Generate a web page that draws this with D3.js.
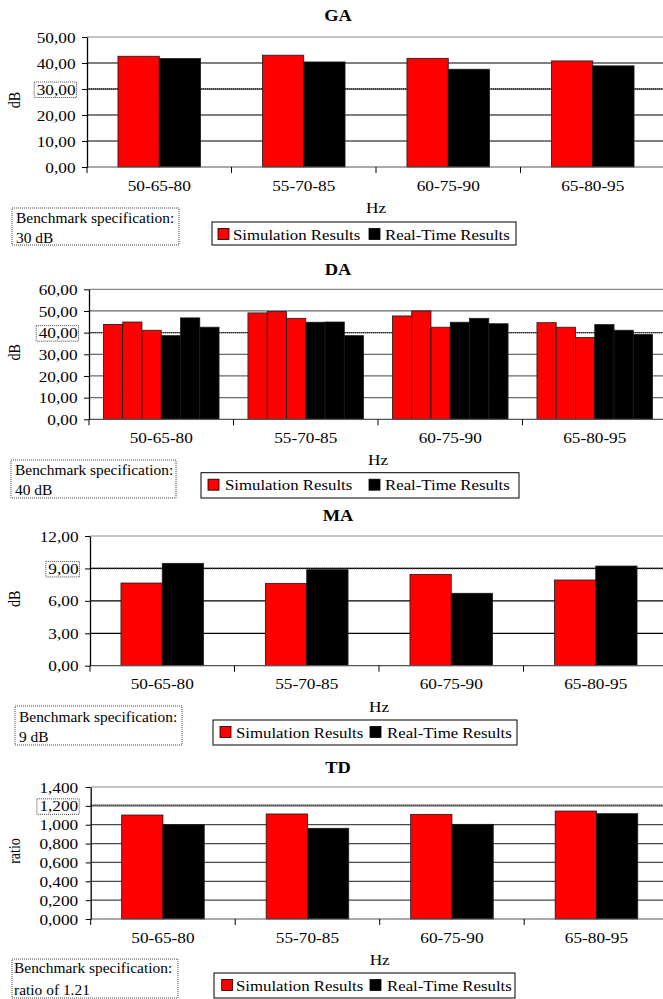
<!DOCTYPE html>
<html>
<head>
<meta charset="utf-8">
<script src="https://cdn.jsdelivr.net/npm/d3@7"></script>
<style>
  html, body { margin: 0; padding: 0; background: #fff; }
  svg { display: block; }
  svg text { font-family: "Liberation Serif", Tinos, "Times New Roman", Times, "DejaVu Serif", serif; fill: #000; }
</style>
</head>
<body>
<svg id="chart" width="663" height="999"></svg>
<script>
// Frequency triplets (Hz) shared by all four panels
const categories = ["50-65-80", "55-70-85", "60-75-90", "65-80-95"];

// GA (dB)
const gaSimulation = [42.6, 43.0, 41.8, 40.8];
const gaRealTime   = [41.7, 40.4, 37.6, 38.9];
const gaTicks      = [0, 10, 20, 30, 40, 50];
const gaBenchmark  = 30;

// DA (dB) – three readings per frequency triplet
const daSimulation = [[43.8, 44.9, 41.1], [49.1, 49.7, 46.6], [47.7, 50.0, 42.5], [44.6, 42.5, 37.8]];
const daRealTime   = [[38.6, 46.8, 42.5], [44.8, 44.9, 38.6], [44.8, 46.6, 44.1], [43.7, 41.1, 39.1]];
const daTicks      = [0, 10, 20, 30, 40, 50, 60];
const daBenchmark  = 40;

// MA (dB)
const maSimulation = [7.65, 7.62, 8.45, 7.93];
const maRealTime   = [9.47, 8.88, 6.70, 9.22];
const maTicks      = [0, 3, 6, 9, 12];
const maBenchmark  = 9;

// TD (ratio)
const tdSimulation = [1.103, 1.114, 1.110, 1.145];
const tdRealTime   = [1.000, 0.962, 1.004, 1.117];
const tdTicks      = [0, 0.2, 0.4, 0.6, 0.8, 1.0, 1.2, 1.4];
const tdBenchmark  = 1.21;

const titles       = ["GA", "DA", "MA", "TD"];
const yTitles      = ["dB", "dB", "dB", "ratio"];
const benchNotes   = ["30 dB", "40 dB", "9 dB", "ratio of 1.21"];
const seriesNames  = ["Simulation Results", "Real-Time Results"];
const seriesColors = ["#ff0000", "#000000"];

// Decimal comma formatting
const locale = d3.formatLocale({decimal: ",", thousands: ".", grouping: [3], currency: ["", ""]});
const fmt2 = locale.format(".2f");
const fmt3 = locale.format(".3f");

// Page layout for each panel
const layouts = [
  {left: 87,   top: 37,    bottom: 167,   titleY: 21,  grid: "#000",
   legend: {x0: 212, x1: 516, y0: 222,   y1: 245, s1: 218,   t1: 233, s2: 369, t2: 385},
   note:   {x0: 12,  x1: 179, y0: 208,   y1: 245, tx: 16, b1: 222.5, b2: 242.5}},
  {left: 89,   top: 289.3, bottom: 419.3, titleY: 275, grid: "#6a6a6a",
   legend: {x0: 201, x1: 519, y0: 472.7, y1: 498, s1: 208,   t1: 225, s2: 369, t2: 385},
   note:   {x0: 11,  x1: 176, y0: 460,   y1: 498, tx: 15, b1: 474.5, b2: 495}},
  {left: 90,   top: 536,   bottom: 665.7, titleY: 521, grid: "#000",
   legend: {x0: 213, x1: 517, y0: 720,   y1: 745, s1: 220,   t1: 236, s2: 370, t2: 387},
   note:   {x0: 15,  x1: 182, y0: 706,   y1: 745, tx: 19, b1: 721.5, b2: 742.3}},
  {left: 90.7, top: 787,   bottom: 919,   titleY: 773, grid: "#4a4a4a",
   legend: {x0: 214, x1: 515, y0: 973,   y1: 998, s1: 221.7, t1: 236, s2: 370, t2: 387},
   note:   {x0: 12,  x1: 178, y0: 959,   y1: 998, tx: 14, b1: 972.7, b2: 995}}
];
const plotWidth = 578;
const SX = 1.15;          // horizontal stretch of the lettering
const FONT = 15;
const FAMILY = '"Liberation Serif", Tinos, "Times New Roman", Times, "DejaVu Serif", serif';

const panels = [
  {sim: gaSimulation.map(v => [v]), real: gaRealTime.map(v => [v]), ticks: gaTicks, fmt: fmt2, bench: gaBenchmark},
  {sim: daSimulation, real: daRealTime, ticks: daTicks, fmt: fmt2, bench: daBenchmark},
  {sim: maSimulation.map(v => [v]), real: maRealTime.map(v => [v]), ticks: maTicks, fmt: fmt2, bench: maBenchmark},
  {sim: tdSimulation.map(v => [v]), real: tdRealTime.map(v => [v]), ticks: tdTicks, fmt: fmt3, bench: tdBenchmark}
];

const svg = d3.select("#chart");

function label(g, x, y, str, opts = {}) {
  return g.append("text")
    .attr("transform", `translate(${x},${y}) scale(${opts.sx || SX},1)`)
    .attr("text-anchor", opts.anchor || "start")
    .attr("font-family", FAMILY)
    .attr("font-size", opts.size || FONT)
    .attr("font-weight", opts.weight || "normal")
    .text(str);
}

panels.forEach((p, i) => {
  const L = layouts[i];
  const g = svg.append("g");
  const right = L.left + plotWidth;

  const y = d3.scaleLinear().domain([0, d3.max(p.ticks)]).range([L.bottom, L.top]);
  const x = d3.scaleBand().domain(categories).range([L.left, right]).padding(0);
  const perSeries = p.sim[0].length;
  const nBars = perSeries * 2;
  const x1 = d3.scaleBand().domain(d3.range(nBars)).range([0, x.bandwidth()])
    .paddingInner(0).paddingOuter(0.75);

  // Gridlines
  const topTick = d3.max(p.ticks);
  g.append("g").selectAll("line").data(p.ticks.filter(t => t > 0)).join("line")
    .attr("x1", L.left).attr("x2", right)
    .attr("y1", d => y(d)).attr("y2", d => y(d))
    .attr("stroke", d => d === topTick ? "#8a8a8a" : L.grid)
    .attr("stroke-width", 1.2);

  // Benchmark line
  g.append("line")
    .attr("x1", L.left).attr("x2", right)
    .attr("y1", y(p.bench)).attr("y2", y(p.bench))
    .attr("stroke", "#2a2a2a").attr("stroke-width", 1.4)
    .attr("stroke-dasharray", "1,1");

  // Bars
  const rows = categories.map((c, ci) => ({
    cat: c,
    bars: p.sim[ci].map((v, k) => ({k, v, s: 0}))
      .concat(p.real[ci].map((v, k) => ({k: perSeries + k, v, s: 1})))
  }));
  g.append("g").selectAll("g").data(rows).join("g")
    .attr("transform", d => `translate(${x(d.cat)},0)`)
    .selectAll("rect").data(d => d.bars).join("rect")
      .attr("x", d => x1(d.k))
      .attr("width", x1.bandwidth())
      .attr("y", d => y(d.v))
      .attr("height", d => y(0) - y(d.v))
      .attr("fill", d => seriesColors[d.s])
      .attr("stroke", "#1a1a1a")
      .attr("stroke-width", 0.8);

  // X axis line and category separators
  g.append("line").attr("x1", L.left).attr("x2", right)
    .attr("y1", L.bottom).attr("y2", L.bottom)
    .attr("stroke", "#555").attr("stroke-width", 1.2);
  const edges = categories.map(c => x(c)).concat([right]);
  g.append("g").selectAll("line").data(edges).join("line")
    .attr("x1", d => d).attr("x2", d => d)
    .attr("y1", L.bottom).attr("y2", L.bottom + 6)
    .attr("stroke", "#000").attr("stroke-width", 1);

  // Y axis
  const axis = g.append("g").attr("transform", `translate(${L.left},0)`)
    .call(d3.axisLeft(y).tickValues(p.ticks).tickFormat(p.fmt).tickSize(5).tickSizeOuter(0));
  axis.attr("font-family", FAMILY);
  axis.select(".domain").attr("stroke", "#000").attr("stroke-width", 1.3);
  axis.selectAll(".tick line").attr("stroke", "#000");
  const labelRight = i === 3 ? 12.5 : 11.5;
  axis.selectAll(".tick text")
    .attr("x", -labelRight / SX)
    .attr("dy", "0.34em")
    .attr("transform", `scale(${SX},1)`)
    .attr("font-size", FONT)
    .attr("font-family", FAMILY)
    .attr("fill", "#000");

  // Dotted frame round the tick label nearest the benchmark
  const nearest = p.ticks.reduce((a, b) => Math.abs(b - p.bench) < Math.abs(a - p.bench) ? b : a);
  axis.selectAll(".tick").filter(d => d === nearest).each(function () {
    const t = d3.select(this).select("text");
    const w = t.node().getComputedTextLength() * SX;
    d3.select(this).append("rect")
      .attr("x", -labelRight - w - 2.5).attr("y", -7.5)
      .attr("width", w + 3.5).attr("height", 15.5)
      .attr("fill", "none").attr("stroke", "#444")
      .attr("stroke-width", 1).attr("stroke-dasharray", "1,1");
  });

  // Category labels
  categories.forEach(c => label(g, x(c) + x.bandwidth() / 2, L.bottom + 23.5, c, {anchor: "middle"}));

  // Axis titles and panel title
  label(g, L.left + plotWidth / 2, L.bottom + 46, "Hz", {anchor: "middle"});
  g.append("text")
    .attr("transform", `translate(${20},${(L.top + L.bottom) / 2 - 2}) rotate(-90) scale(1,1.2)`)
    .attr("text-anchor", "middle").attr("font-size", 14).attr("font-family", FAMILY)
    .text(yTitles[i]);
  label(g, 338, L.titleY, titles[i], {anchor: "middle", weight: "bold", size: 16});

  // Legend
  const lg = L.legend;
  g.append("rect").attr("x", lg.x0).attr("y", lg.y0)
    .attr("width", lg.x1 - lg.x0).attr("height", lg.y1 - lg.y0)
    .attr("fill", "#fff").attr("stroke", "#000").attr("stroke-width", 1);
  [[lg.s1, lg.t1], [lg.s2, lg.t2]].forEach(([sx, tx], k) => {
    g.append("rect").attr("x", sx).attr("y", lg.y0 + 6.5).attr("width", 11).attr("height", 11)
      .attr("fill", seriesColors[k]).attr("stroke", "#000").attr("stroke-width", 0.8);
    label(g, tx, lg.y0 + 17.5, seriesNames[k], {sx: 1.12});
  });

  // Benchmark note
  const nt = L.note;
  g.append("rect").attr("x", nt.x0).attr("y", nt.y0)
    .attr("width", nt.x1 - nt.x0).attr("height", nt.y1 - nt.y0)
    .attr("fill", "#fff").attr("stroke", "#444").attr("stroke-width", 1)
    .attr("stroke-dasharray", "1,1");
  label(g, nt.tx, nt.b1, "Benchmark specification:", {sx: 1.03});
  label(g, nt.tx, nt.b2, benchNotes[i], {sx: 1.03});
});
</script>
</body>
</html>
